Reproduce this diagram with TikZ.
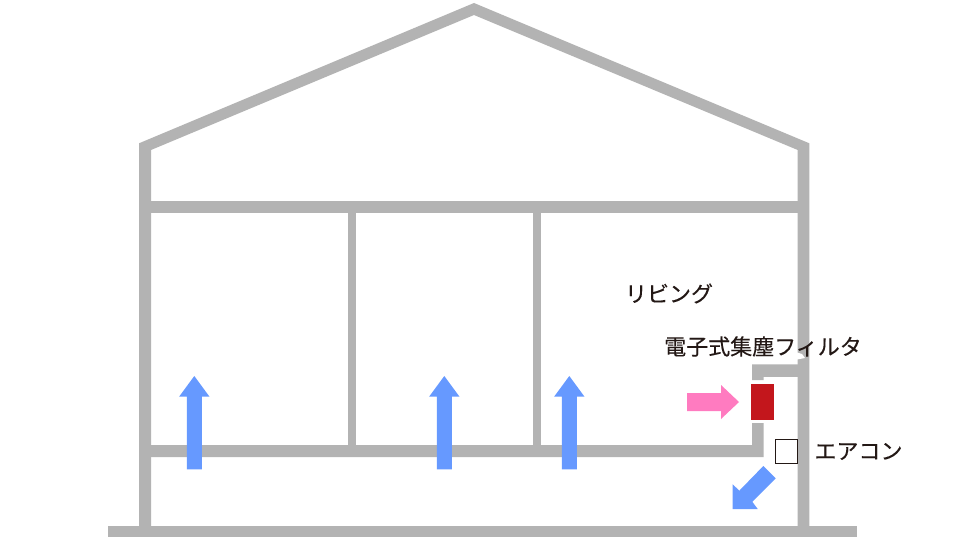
\documentclass[tikz,border=0pt]{standalone}
\usepackage{fontspec}
\setmainfont[FakeBold=0.2]{Noto Sans CJK JP}
\definecolor{wallgrey}{HTML}{B3B3B3}
\definecolor{airblue}{HTML}{6699FF}
\definecolor{airpink}{HTML}{FF7BC0}
\definecolor{filterred}{HTML}{C3161C}
\definecolor{labelink}{HTML}{231815}
\tikzset{
  wall/.style={fill=wallgrey,draw=none},
  bluearrow/.style={fill=airblue,draw=none},
  label/.style={text=labelink,inner sep=0pt,font=\fontsize{22pt}{24pt}\selectfont,anchor=center}
}
\begin{document}
\begin{tikzpicture}[x=1pt,y=-1pt]
\useasboundingbox (0,0) rectangle (960,540);
\fill[white] (0,0) rectangle (960,540);
% house outline
\fill[wall] (139,530) -- (139,143.3) -- (474,3) -- (809.3,143.3) -- (809.3,530) -- (797.7,530) -- (797.7,150) -- (474,15) -- (151,150) -- (151,530) -- cycle;
% ground
\fill[wall] (108,525.7) rectangle (857,537);
% ceiling
\fill[wall] (150,201) rectangle (799,213);
% partitions
\fill[wall] (348,212) rectangle (356,446);
\fill[wall] (532.5,212) rectangle (540.5,446);
% floor and wall by the unit
\fill[wall] (150,445) -- (752,445) -- (752,423) -- (763.7,423) -- (763.7,457) -- (150,457) -- cycle;
\fill[wall] (752,364.3) -- (799,364.3) -- (799,376.8) -- (763.7,376.8) -- (763.7,380) -- (752,380) -- cycle;
% notch left by the label in the wall
\fill[white] (797,352.5) -- (802,354) -- (805,358) -- (797,359.5) -- cycle;
% up arrows
\foreach \cx in {194.3,444.3,569.3}{
  \fill[bluearrow] (\cx-7.5,469.3) -- (\cx-7.5,396.7) -- (\cx-15.2,396.7) -- (\cx,376) -- (\cx+15.2,396.7) -- (\cx+7.5,396.7) -- (\cx+7.5,469.3) -- cycle;
}
% diagonal arrow
\fill[bluearrow] (763.3,466) -- (775.7,478.3) -- (752.3,501.7) -- (757.7,509) -- (732.7,509) -- (732.7,484.3) -- (739.3,490.7) -- cycle;
% pink arrow
\fill[airpink] (687,393) -- (721,393) -- (721,385) -- (739,402) -- (721,419) -- (721,411) -- (687,411) -- cycle;
% filter
\node[fill=filterred,draw=none,minimum width=23pt,minimum height=36pt,inner sep=0pt,anchor=north west] (filter) at (751,384) {};
% air conditioner
\node[fill=white,draw=labelink,line width=1pt,minimum width=21.5pt,minimum height=23.5pt,inner sep=0pt,anchor=north west] (aircon) at (775.3,439.3) {};
% labels
\node[label] (living) at (669,293.5) {リビング};
\node[label] (filterlabel) at (763,346.5) {電子式集塵フィルタ};
\node[label] (airconlabel) at (858.5,451.5) {エアコン};
\end{tikzpicture}
\end{document}
